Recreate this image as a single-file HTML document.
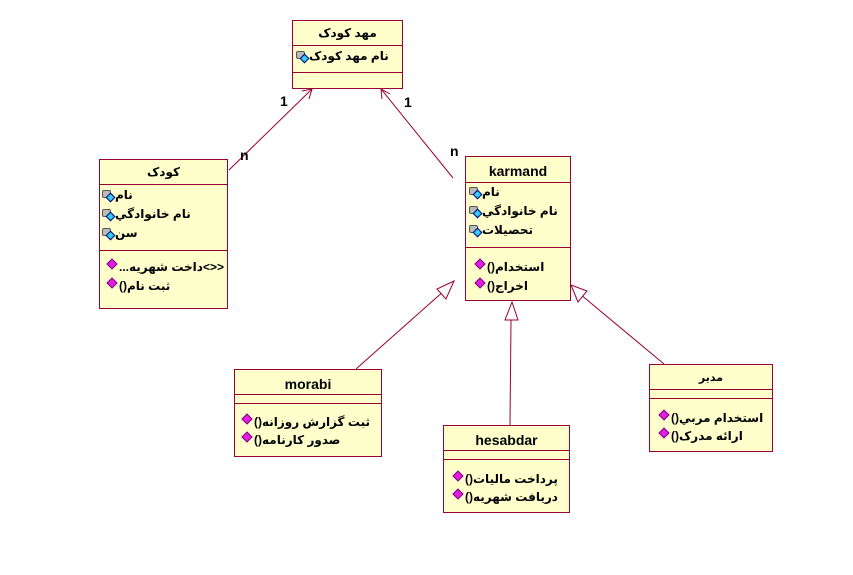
<!DOCTYPE html>
<html><head><meta charset="utf-8"><style>
body{margin:0;width:853px;height:575px;background:#fff;position:relative;overflow:hidden;font-family:"Liberation Sans","DejaVu Sans",sans-serif;}
.b{position:absolute;background:#ffffcc;border:1px solid #990033;box-sizing:border-box;}
.t{position:absolute;left:0;right:0;text-align:center;font-weight:bold;color:#000;}
.s{position:absolute;left:0;right:0;border-top:1px solid #990033;}
.r{position:absolute;font-size:12px;font-weight:bold;white-space:nowrap;display:flex;align-items:center;height:16px;}
.lk{display:inline-block;width:12px;height:11px;position:relative;margin-right:1px}
.lk:before{content:"";position:absolute;left:0;top:0;width:7px;height:6px;border:1px solid #555;background:#bbb;border-radius:2px}
.lk:after{content:"";position:absolute;left:5px;top:4px;width:5px;height:5px;background:#33ccff;border:1px solid #006;transform:rotate(45deg)}
.dm{display:inline-block;width:6px;height:6px;background:#e020e0;border:1px solid #800080;transform:rotate(45deg);margin:0 3px 0 2px;position:relative;top:-3px}
.x{direction:rtl;unicode-bidi:embed}
</style></head><body>
<svg width="853" height="575" style="position:absolute;left:0;top:0" fill="none" stroke="#990033" stroke-width="1">
<line x1="229" y1="170" x2="312" y2="89"/>
<polyline points="302,91 312,89 309,99"/>
<line x1="453" y1="178" x2="381" y2="89"/>
<polyline points="382,99 381,89 390,94"/>
<line x1="356" y1="369" x2="445" y2="290"/>
<polygon points="454,281 437,289 446,299" fill="#fff"/>
<line x1="510" y1="425" x2="511" y2="320"/>
<polygon points="512,302 505,320 518,320" fill="#fff"/>
<line x1="664" y1="364" x2="580" y2="294"/>
<polygon points="571,285 578,302 587,291" fill="#fff"/>
</svg>
<div style="position:absolute;left:280px;top:93px;font:bold 14px 'Liberation Sans',sans-serif">1</div>
<div style="position:absolute;left:240px;top:147px;font:bold 14px 'Liberation Sans',sans-serif">n</div>
<div style="position:absolute;left:404px;top:94px;font:bold 14px 'Liberation Sans',sans-serif">1</div>
<div style="position:absolute;left:450px;top:143px;font:bold 14px 'Liberation Sans',sans-serif">n</div>

<div class="b" style="left:292px;top:20px;width:111px;height:69px">
<div class="t x" style="top:5px;font-size:12px">مهد کودک</div>
<div class="s" style="top:24px"></div>
<div class="r" style="left:3px;top:27px"><span class="lk"></span><span class="x">نام مهد کودک</span></div>
<div class="s" style="top:51px"></div></div>

<div class="b" style="left:99px;top:159px;width:129px;height:150px">
<div class="t x" style="top:5px;font-size:12px">کودک</div>
<div class="s" style="top:24px"></div>
<div class="r" style="left:2px;top:27px"><span class="lk"></span><span class="x">نام</span></div>
<div class="r" style="left:2px;top:46px"><span class="lk"></span><span class="x">نام خانوادگي</span></div>
<div class="r" style="left:2px;top:65px"><span class="lk"></span><span class="x">سن</span></div>
<div class="s" style="top:90px"></div>
<div class="r" style="left:6px;top:99px"><span class="dm"></span>...داخت شهريه&lt;&gt;&gt;</div>
<div class="r" style="left:6px;top:118px"><span class="dm"></span>()ثبت نام</div></div>

<div class="b" style="left:465px;top:156px;width:106px;height:145px">
<div class="t" style="top:6px;font-size:14px">karmand</div>
<div class="s" style="top:25px"></div>
<div class="r" style="left:3px;top:27px"><span class="lk"></span><span class="x">نام</span></div>
<div class="r" style="left:3px;top:46px"><span class="lk"></span><span class="x">نام خانوادگي</span></div>
<div class="r" style="left:3px;top:65px"><span class="lk"></span><span class="x">تحصيلات</span></div>
<div class="s" style="top:90px"></div>
<div class="r" style="left:8px;top:102px"><span class="dm"></span>()استخدام</div>
<div class="r" style="left:8px;top:121px"><span class="dm"></span>()اخراج</div></div>

<div class="b" style="left:234px;top:369px;width:148px;height:88px">
<div class="t" style="top:6px;font-size:14px">morabi</div>
<div class="s" style="top:24px"></div><div class="s" style="top:33px"></div>
<div class="r" style="left:6px;top:44px"><span class="dm"></span>()ثبت گزارش روزانه</div>
<div class="r" style="left:6px;top:62px"><span class="dm"></span>()صدور کارنامه</div></div>

<div class="b" style="left:443px;top:425px;width:127px;height:88px">
<div class="t" style="top:6px;font-size:14px">hesabdar</div>
<div class="s" style="top:24px"></div><div class="s" style="top:33px"></div>
<div class="r" style="left:8px;top:45px"><span class="dm"></span>()پرداخت ماليات</div>
<div class="r" style="left:8px;top:63px"><span class="dm"></span>()دريافت شهريه</div></div>

<div class="b" style="left:649px;top:364px;width:124px;height:88px">
<div class="t x" style="top:6px;font-size:11px">مدير</div>
<div class="s" style="top:24px"></div><div class="s" style="top:33px"></div>
<div class="r" style="left:8px;top:45px"><span class="dm"></span>()استخدام مربي</div>
<div class="r" style="left:8px;top:63px"><span class="dm"></span>()ارائه مدرک</div></div>
</body></html>
